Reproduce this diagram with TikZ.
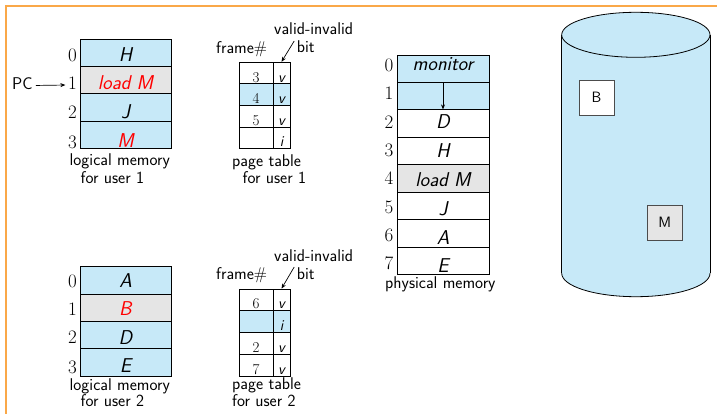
\documentclass[tikz,border=0pt]{standalone}
\usepackage{fontspec}
\usetikzlibrary{arrows.meta}
\definecolor{memblue}{RGB}{199,233,248}
\definecolor{memgray}{RGB}{229,229,229}
\definecolor{frameorange}{RGB}{250,168,72}
\newcommand\fsz[1]{\fontsize{#1}{#1}\selectfont}
\tikzset{
  mem/.style={draw=black, line width=0.8pt, minimum width=91pt, minimum height=27.4pt,
    inner sep=0pt, text depth=0pt, font=\sffamily\itshape\fsz{20}},
  physmem/.style={mem, minimum width=92pt},
  bl/.style={text height=#1},
  idx/.style={anchor=base east, inner sep=0pt, font=\fsz{19}},
  captext/.style={anchor=base west, inner sep=0pt, font=\sffamily\fsz{17}},
  ptf/.style={draw=black, line width=0.8pt, minimum width=34pt, minimum height=21.7pt,
    inner sep=0pt, text depth=0pt, text height=18pt, font=\fsz{15}},
  ptb/.style={ptf, minimum width=17pt, font=\sffamily\itshape\fsz{15}},
  bluecell/.style={fill=memblue},
  graycell/.style={fill=memgray},
  pointer/.style={-{Stealth[length=5pt,width=4pt]}, line width=0.7pt},
  diskbox/.style={draw=black!70, line width=0.8pt, minimum size=35pt, inner sep=0pt,
    font=\sffamily\fsz{15}},
}
\begin{document}
\begin{tikzpicture}[x=1pt,y=-1pt]
\useasboundingbox (0,0) rectangle (717,414);

% page frame
\draw[frameorange, line width=1.3pt] (6,414) -- (6,6) -- (717,6);

% ---------- logical memory, user 1 ----------
\node[mem,bluecell,bl=18.5pt] (l1r0) at (125.5,52.75) {H};
\node[mem,graycell,bl=18.3pt,text=red] (l1r1) at (125.5,80.15) {load M};
\node[mem,bluecell,bl=22.9pt] (l1r2) at (125.5,107.55) {J};
\node[mem,bluecell,bl=25.5pt,text=red] (l1r3) at (125.5,134.95) {M};
\node[idx] (l1i0) at (77,61.7) {0};
\node[idx] (l1i1) at (77,89.3) {1};
\node[idx] (l1i2) at (77,118.3) {2};
\node[idx] (l1i3) at (77,148.3) {3};
\node[captext] (l1c1) at (69.5,166) {logical memory};
\node[captext] (l1c2) at (80.5,183) {for user 1};
\node[captext] (pc) at (12,89.3) {PC};
\draw[pointer] ([xshift=3pt,yshift=-2pt]pc.east) -- ([xshift=-2.5pt,yshift=-2pt]l1i1.west);

% ---------- page table, user 1 ----------
\node[ptf] (t1f0) at (256,73.1) {3};
\node[ptb] (t1b0) at (281.5,73.1) {v};
\node[ptf,bluecell] (t1f1) at (256,94.7) {4};
\node[ptb,bluecell] (t1b1) at (281.5,94.7) {v};
\node[ptf] (t1f2) at (256,116.3) {5};
\node[ptb] (t1b2) at (281.5,116.3) {v};
\node[ptf] (t1f3) at (256,137.9) {};
\node[ptb] (t1b3) at (281.5,137.9) {i};
\node[captext] (t1fr) at (216,53.3) {frame{\rmfamily\#}};
\node[captext] (t1vi) at (274,35) {valid-invalid};
\node[captext] (t1bit) at (296.7,53) {bit};
\draw[pointer] ([xshift=-2.5pt]t1bit.north west) -- (t1b0.north);
\node[captext] (t1c1) at (232,167) {page table};
\node[captext] (t1c2) at (242.5,184) {for user 1};

% ---------- logical memory, user 2 ----------
\node[mem,bluecell,bl=14.2pt] (l2r0) at (125.5,280.2) {A};
\node[mem,graycell,bl=16.2pt,text=red] (l2r1) at (125.5,307.6) {B};
\node[mem,bluecell,bl=18.6pt] (l2r2) at (125.5,335.0) {D};
\node[mem,bluecell,bl=20.6pt] (l2r3) at (125.5,362.4) {E};
\node[idx] (l2i0) at (77,287.3) {0};
\node[idx] (l2i1) at (77,315.7) {1};
\node[idx] (l2i2) at (77,343.3) {2};
\node[idx] (l2i3) at (77,373.3) {3};
\node[captext] (l2c1) at (69.5,390) {logical memory};
\node[captext] (l2c2) at (80.5,406.5) {for user 2};

% ---------- page table, user 2 ----------
\node[ptf] (t2f0) at (256,299.9) {6};
\node[ptb] (t2b0) at (281.5,299.9) {v};
\node[ptf,bluecell] (t2f1) at (256,321.7) {};
\node[ptb,bluecell] (t2b1) at (281.5,321.7) {i};
\node[ptf] (t2f2) at (256,343.5) {2};
\node[ptb] (t2b2) at (281.5,343.5) {v};
\node[ptf] (t2f3) at (256,365.3) {7};
\node[ptb] (t2b3) at (281.5,365.3) {v};
\node[captext] (t2fr) at (216,279) {frame{\rmfamily\#}};
\node[captext] (t2vi) at (274,261.7) {valid-invalid};
\node[captext] (t2bit) at (296.7,279) {bit};
\draw[pointer] ([xshift=-2.5pt]t2bit.north west) -- (t2b0.north);
\node[captext] (t2c1) at (232,389.8) {page table};
\node[captext] (t2c2) at (232,406.5) {for user 2};

% ---------- physical memory ----------
\node[physmem,bluecell,bl=4pt] (p0) at (443,68.7) {monitor};
\node[physmem,bluecell] (p1) at (443,96.1) {};
\node[physmem,bl=10pt] (p2) at (443,123.5) {D};
\node[physmem,bl=13pt] (p3) at (443,151.0) {H};
\node[physmem,graycell,bl=16pt] (p4) at (443,178.4) {load M};
\node[physmem,bl=19pt] (p5) at (443,205.8) {J};
\node[physmem,bl=22pt] (p6) at (443,233.2) {A};
\node[physmem,bl=24pt] (p7) at (443,260.6) {E};
\foreach \i/\b in {0/71.7,1/100,2/128.3,3/156.6,4/184.9,5/213.2,6/241.5,7/269.8}
  \node[idx] (pi\i) at (393.5,\b) {\i};
\draw[pointer] (p0.south) -- (p2.north);
\node[captext] (pcap) at (385,288.5) {physical memory};

% ---------- backing store (disk) ----------
\fill[memblue] (561.7,34.8) rectangle (710,273.3);
\fill[memblue] (635.85,273.3) ellipse [x radius=74.15, y radius=23.4];
\begin{scope}
  \clip (550,273.3) rectangle (717,310);
  \draw[line width=0.8pt] (635.85,273.3) ellipse [x radius=74.15, y radius=23.4];
\end{scope}
\draw[line width=0.8pt] (561.7,34.8) -- (561.7,273.3);
\draw[line width=0.8pt] (710,34.8) -- (710,273.3);
\draw[line width=0.8pt, fill=memblue] (635.85,34.8) ellipse [x radius=74.15, y radius=22.5];
\node[diskbox, fill=white] (dB) at (596.5,97.5) {B};
\node[diskbox, fill=memgray] (dM) at (664.8,222.5) {M};
\end{tikzpicture}
\end{document}
